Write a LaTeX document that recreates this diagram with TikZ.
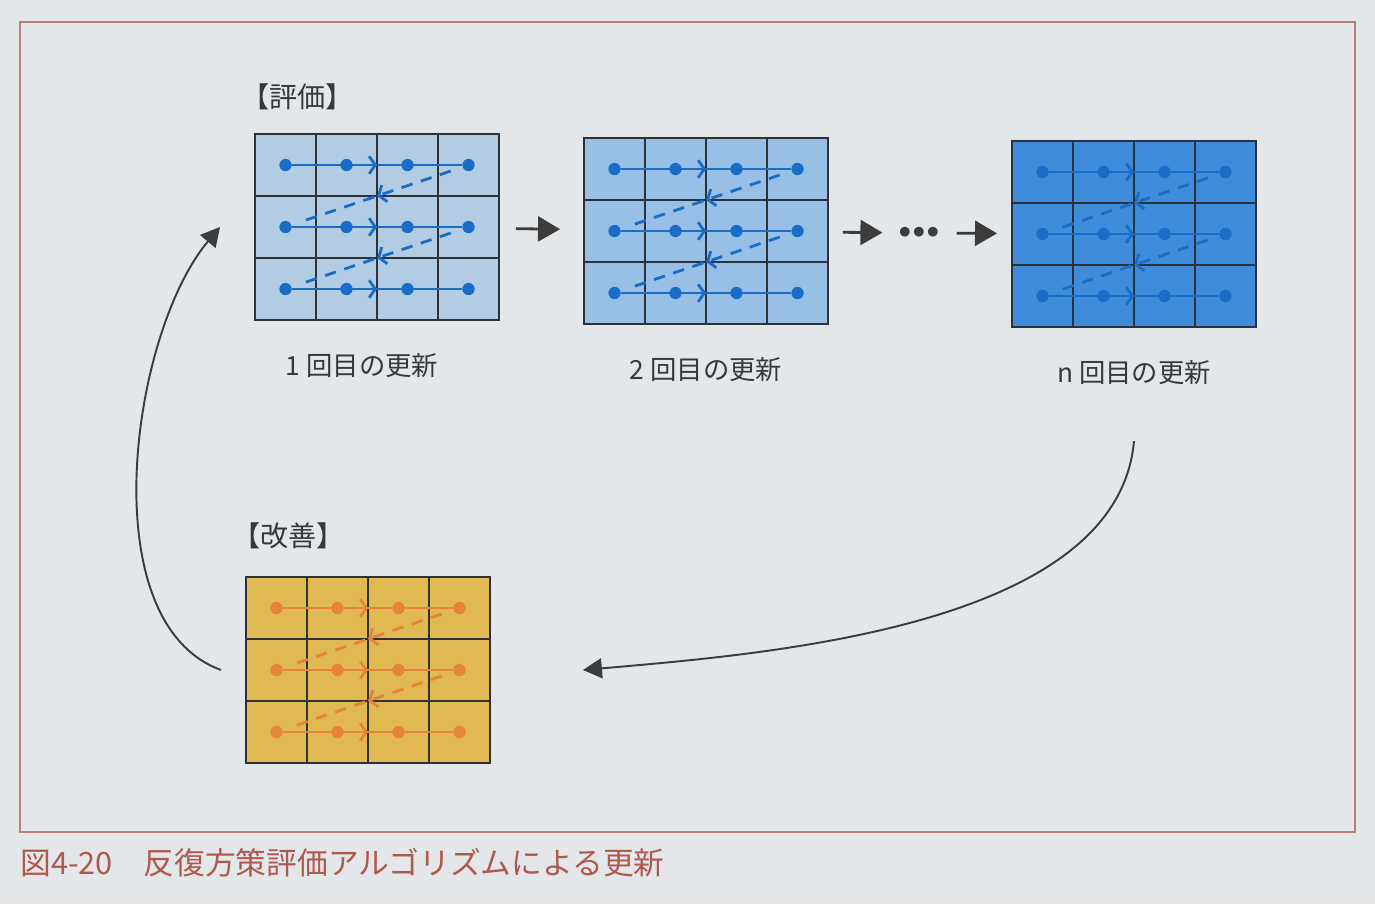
\documentclass[tikz,border=0pt]{standalone}
\usepackage{fontspec}
\usepackage{tikz}
\usetikzlibrary{arrows.meta,positioning,decorations.markings}
\newfontfamily\jpfont{Noto Sans CJK JP}
\definecolor{pagegrey}{HTML}{E3E7E9}
\definecolor{framered}{HTML}{B88076}
\definecolor{captionred}{HTML}{B0584E}
\definecolor{gridline}{HTML}{2E3236}
\definecolor{arrowgrey}{HTML}{3C3C3C}
\definecolor{textgrey}{HTML}{383838}
\definecolor{evalone}{HTML}{B2CCE3}
\definecolor{evaltwo}{HTML}{98BFE6}
\definecolor{evalnth}{HTML}{3E8CDB}
\definecolor{improvefill}{HTML}{E1B952}
\definecolor{bluepath}{HTML}{1A6DC6}
\definecolor{orangepath}{HTML}{E6843C}
\tikzstyle{GridFrame}=[draw=gridline, line width=1.6pt, minimum width=4.88cm, minimum height=3.72cm, inner sep=0pt, outer sep=0pt, anchor=north west]
\tikzstyle{GridLine}=[draw=gridline, line width=1.6pt]
\tikzstyle{StateDot}=[circle, inner sep=0pt, minimum size=7pt, draw=none]
\tikzstyle{RowPath}=[line width=1.6pt, postaction={decorate}, decoration={markings, mark=at position 0.5 with {\arrow{Straight Barb[length=3.5pt,width=10pt]}}}]
\tikzstyle{ReturnPath}=[line width=1.6pt, dash pattern=on 6.5pt off 5pt, shorten <=7pt, shorten >=7pt, postaction={decorate}, decoration={markings, mark=at position 0.5 with {\arrow{Straight Barb[length=3.5pt,width=10pt]}}}]
\tikzstyle{Flow}=[line width=1.6pt, draw=arrowgrey, -{Triangle[length=0.44cm, width=0.5cm]}]
\tikzstyle{Loop}=[line width=1.1pt, draw=arrowgrey, looseness=0.8, -{Triangle[length=0.38cm, width=0.4cm]}]
\tikzstyle{StepLabel}=[font=\jpfont\fontsize{15pt}{18pt}\selectfont, text=textgrey]
\tikzstyle{Phase}=[font=\jpfont\fontsize{16pt}{19pt}\selectfont, text=textgrey, inner sep=0pt, anchor=south west]
\tikzstyle{Caption}=[font=\jpfont\fontsize{17.5pt}{21pt}\selectfont, text=captionred, inner sep=0pt, anchor=west]
\pgfdeclarelayer{nodelayer}
\pgfdeclarelayer{edgelayer}
\pgfsetlayers{main, nodelayer, edgelayer}

% one 3x4 grid: name, left, top, fill, path colour
\newcommand{\sweepgrid}[5]{%
	\node [style=GridFrame, fill=#4] (#1) at (#2, #3) {};
	\foreach \c in {1,2,3}
		\draw [style=GridLine] ({#2+\c*61}, #3) -- ({#2+\c*61}, {#3+186});
	\foreach \r in {1,2}
		\draw [style=GridLine] (#2, {#3+\r*62}) -- ({#2+244}, {#3+\r*62});
	\foreach \r in {1,2,3}
		\foreach \c in {1,2,3,4}
			\node [style=StateDot, fill=#5] (#1-\r-\c) at ({#2+\c*61-30.5}, {#3+\r*62-31}) {};
	\foreach \r in {1,2,3}
		\draw [style=RowPath, #5] (#1-\r-1) -- (#1-\r-4);
	\foreach \r/\s in {1/2,2/3}
		\draw [style=ReturnPath, #5] (#1-\r-4) -- (#1-\s-1);
}

\begin{document}
\begin{tikzpicture}[x=0.02cm, y=-0.02cm]
	\useasboundingbox (0, 0) rectangle (1375, 904);
	\fill [pagegrey] (0, 0) rectangle (1375, 904);
	\draw [draw=framered, line width=1.1pt] (20, 22) rectangle (1355, 832);
	\begin{pgfonlayer}{nodelayer}
		\sweepgrid{eval1}{255}{134}{evalone}{bluepath}
		\sweepgrid{eval2}{584}{138}{evaltwo}{bluepath}
		\sweepgrid{evaln}{1012}{141}{evalnth}{bluepath}
		\sweepgrid{improve}{246}{577}{improvefill}{orangepath}

		\node [style=StepLabel, below=0.55cm of eval1, xshift=-0.3cm] (first) {1 回目の更新};
		\node [style=StepLabel, below=0.55cm of eval2] (second) {2 回目の更新};
		\node [style=StepLabel, below=0.55cm of evaln] (nth) {n 回目の更新};
		\node [text=arrowgrey, font=\Large] (more) at (919, 233) {$\bullet\!\bullet\!\bullet$};

		\node [style=Phase] (phaseeval) at ([shift={(-0.28cm,0.48cm)}]eval1.north west) {【評価】};
		\node [style=Phase] (phaseimprove) at ([shift={(-0.28cm,0.56cm)}]improve.north west) {【改善】};
		\node [style=Caption] (caption) at (20, 863) {図4-20　反復方策評価アルゴリズムによる更新};
	\end{pgfonlayer}
	\begin{pgfonlayer}{edgelayer}
		\draw [style=Flow, shorten <=0.34cm, shorten >=0.48cm] (eval1) to (eval2);
		\draw [style=Flow, shorten <=0.3cm, shorten >=0.2cm] (eval2) to (more);
		\draw [style=Flow, shorten <=0.22cm, shorten >=0.3cm] (more) to (evaln);

		% loop back: improve -> evaluate, evaluate -> improve
		\draw [style=Loop] ([xshift=-0.5cm]improve.west) to[out=160, in=230] ([xshift=-0.7cm]eval1.west);
		\draw [style=Loop] ([yshift=-1.0cm]nth.south) to[out=265, in=5] ([xshift=1.86cm]improve.east);
	\end{pgfonlayer}
\end{tikzpicture}
\end{document}
